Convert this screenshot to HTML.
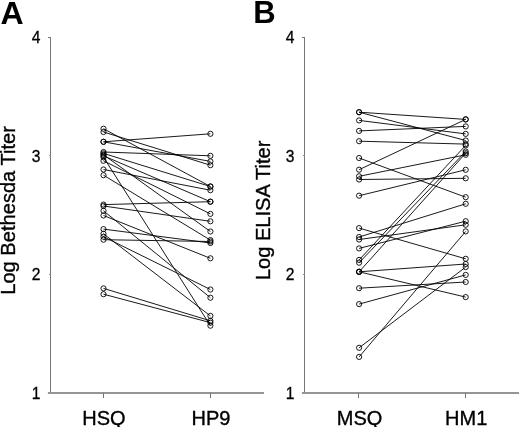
<!DOCTYPE html>
<html><head><meta charset="utf-8"><title>Figure</title>
<style>
html,body{margin:0;padding:0;background:#fff;}
svg{display:block;font-family:"Liberation Sans",sans-serif;}
.ax{stroke:#757575;stroke-width:1;fill:none;shape-rendering:crispEdges;}
.ln{stroke:#000;stroke-width:0.9;fill:none;}
.pt{stroke:#000;stroke-width:0.9;fill:none;}
.tk{font-size:15.6px;fill:#000;stroke:#000;stroke-width:0.3px;text-anchor:end;}
.xl{font-size:20px;fill:#000;stroke:#000;stroke-width:0.35px;text-anchor:middle;}
.yl{font-size:20.1px;fill:#000;stroke:#000;stroke-width:0.35px;text-anchor:middle;}
.pl{font-size:32.5px;font-weight:bold;fill:#000;}
</style></head><body>
<svg width="520" height="427" viewBox="0 0 520 427">
<rect width="520" height="427" fill="#fff"/>

<text class="pl" x="0.6" y="23.5" style="font-size:32px">A</text>
<path class="ax" d="M50.5 37.5V392.5"/>
<rect x="47.9" y="392" width="216.1" height="2" fill="#959595"/>
<path class="ax" d="M48.0 37.5H50.5"/>
<text class="tk" x="40.5" y="42.95">4</text>
<path class="ax" style="stroke:#8c8c8c" d="M48.5 155.8H50.5"/>
<text class="tk" x="40.5" y="161.80">3</text>
<path class="ax" style="stroke:#8c8c8c" d="M48.5 274.2H50.5"/>
<text class="tk" x="40.5" y="279.50">2</text>
<text class="tk" x="40.5" y="398.70">1</text>
<path class="ax" d="M103.5 393V397.5"/>
<path class="ax" d="M210.5 393V397.5"/>
<text class="xl" x="104.0" y="424.8">HSQ</text>
<text class="xl" x="210.9" y="424.8">HP9</text>
<text class="yl" transform="translate(15.3 210.4) rotate(-90)">Log Bethesda Titer</text>
<path class="ln" d="M103.5 128.7L210.4 186.5"/>
<path class="ln" d="M103.5 132.0L210.4 165.2"/>
<path class="ln" d="M103.5 141.8L210.4 133.8"/>
<path class="ln" d="M103.5 141.8L210.4 161.4"/>
<path class="ln" d="M103.5 152.0L210.4 155.8"/>
<path class="ln" d="M103.5 153.4L210.4 186.5"/>
<path class="ln" d="M103.5 155.8L210.4 201.7"/>
<path class="ln" d="M103.5 160.8L210.4 213.9"/>
<path class="ln" d="M103.5 154.8L210.4 231.5"/>
<path class="ln" d="M103.5 157.2L210.4 325.7"/>
<path class="ln" d="M103.5 169.5L210.4 190.2"/>
<path class="ln" d="M103.5 175.2L210.4 240.1"/>
<path class="ln" d="M103.5 204.6L210.4 201.7"/>
<path class="ln" d="M103.5 206.0L210.4 221.3"/>
<path class="ln" d="M103.5 210.8L210.4 297.7"/>
<path class="ln" d="M103.5 215.5L210.4 258.3"/>
<path class="ln" d="M103.5 229.1L210.4 243.0"/>
<path class="ln" d="M103.5 233.8L210.4 315.9"/>
<path class="ln" d="M103.5 236.7L210.4 289.5"/>
<path class="ln" d="M103.5 239.7L210.4 241.5"/>
<path class="ln" d="M103.5 288.4L210.4 320.8"/>
<path class="ln" d="M103.5 294.2L210.4 322.6"/>
<circle class="pt" cx="103.5" cy="128.7" r="2.6"/>
<circle class="pt" cx="210.4" cy="186.5" r="2.6"/>
<circle class="pt" cx="103.5" cy="132.0" r="2.6"/>
<circle class="pt" cx="210.4" cy="165.2" r="2.6"/>
<circle class="pt" cx="103.5" cy="141.8" r="2.6"/>
<circle class="pt" cx="210.4" cy="133.8" r="2.6"/>
<circle class="pt" cx="103.5" cy="141.8" r="2.6"/>
<circle class="pt" cx="210.4" cy="161.4" r="2.6"/>
<circle class="pt" cx="103.5" cy="152.0" r="2.6"/>
<circle class="pt" cx="210.4" cy="155.8" r="2.6"/>
<circle class="pt" cx="103.5" cy="153.4" r="2.6"/>
<circle class="pt" cx="210.4" cy="186.5" r="2.6"/>
<circle class="pt" cx="103.5" cy="155.8" r="2.6"/>
<circle class="pt" cx="210.4" cy="201.7" r="2.6"/>
<circle class="pt" cx="103.5" cy="160.8" r="2.6"/>
<circle class="pt" cx="210.4" cy="213.9" r="2.6"/>
<circle class="pt" cx="103.5" cy="154.8" r="2.6"/>
<circle class="pt" cx="210.4" cy="231.5" r="2.6"/>
<circle class="pt" cx="103.5" cy="157.2" r="2.6"/>
<circle class="pt" cx="210.4" cy="325.7" r="2.6"/>
<circle class="pt" cx="103.5" cy="169.5" r="2.6"/>
<circle class="pt" cx="210.4" cy="190.2" r="2.6"/>
<circle class="pt" cx="103.5" cy="175.2" r="2.6"/>
<circle class="pt" cx="210.4" cy="240.1" r="2.6"/>
<circle class="pt" cx="103.5" cy="204.6" r="2.6"/>
<circle class="pt" cx="210.4" cy="201.7" r="2.6"/>
<circle class="pt" cx="103.5" cy="206.0" r="2.6"/>
<circle class="pt" cx="210.4" cy="221.3" r="2.6"/>
<circle class="pt" cx="103.5" cy="210.8" r="2.6"/>
<circle class="pt" cx="210.4" cy="297.7" r="2.6"/>
<circle class="pt" cx="103.5" cy="215.5" r="2.6"/>
<circle class="pt" cx="210.4" cy="258.3" r="2.6"/>
<circle class="pt" cx="103.5" cy="229.1" r="2.6"/>
<circle class="pt" cx="210.4" cy="243.0" r="2.6"/>
<circle class="pt" cx="103.5" cy="233.8" r="2.6"/>
<circle class="pt" cx="210.4" cy="315.9" r="2.6"/>
<circle class="pt" cx="103.5" cy="236.7" r="2.6"/>
<circle class="pt" cx="210.4" cy="289.5" r="2.6"/>
<circle class="pt" cx="103.5" cy="239.7" r="2.6"/>
<circle class="pt" cx="210.4" cy="241.5" r="2.6"/>
<circle class="pt" cx="103.5" cy="288.4" r="2.6"/>
<circle class="pt" cx="210.4" cy="320.8" r="2.6"/>
<circle class="pt" cx="103.5" cy="294.2" r="2.6"/>
<circle class="pt" cx="210.4" cy="322.6" r="2.6"/>
<text class="pl" x="253.2" y="23.3" style="font-size:31px">B</text>
<path class="ax" d="M304.5 37.5V392.5"/>
<rect x="301.9" y="392" width="217.1" height="2" fill="#959595"/>
<path class="ax" d="M302.0 37.5H304.5"/>
<text class="tk" x="294.5" y="42.95">4</text>
<path class="ax" style="stroke:#8c8c8c" d="M302.5 155.8H304.5"/>
<text class="tk" x="294.5" y="161.80">3</text>
<path class="ax" style="stroke:#8c8c8c" d="M302.5 274.2H304.5"/>
<text class="tk" x="294.5" y="279.50">2</text>
<text class="tk" x="294.5" y="398.70">1</text>
<path class="ax" d="M358.5 393V397.5"/>
<path class="ax" d="M465.5 393V397.5"/>
<text class="xl" x="359.6" y="424.8">MSQ</text>
<text class="xl" x="466.2" y="424.8">HM1</text>
<text class="yl" transform="translate(269.5 210.4) rotate(-90)">Log ELISA Titer</text>
<path class="ln" d="M359.1 112.2L465.7 119.4"/>
<path class="ln" d="M359.1 112.2L465.7 140.5"/>
<path class="ln" d="M359.1 120.4L465.7 133.9"/>
<path class="ln" d="M359.1 130.9L465.7 126.4"/>
<path class="ln" d="M359.1 141.2L465.7 144.1"/>
<path class="ln" d="M359.1 158.0L465.7 197.2"/>
<path class="ln" d="M359.1 169.7L465.7 119.4"/>
<path class="ln" d="M359.1 176.3L465.7 154.8"/>
<path class="ln" d="M359.1 179.5L465.7 178.3"/>
<path class="ln" d="M359.1 195.7L465.7 169.8"/>
<path class="ln" d="M359.1 228.1L465.7 258.8"/>
<path class="ln" d="M359.1 237.0L465.7 203.8"/>
<path class="ln" d="M359.1 239.5L465.7 224.8"/>
<path class="ln" d="M359.1 248.4L465.7 221.2"/>
<path class="ln" d="M359.1 259.9L465.7 145.4"/>
<path class="ln" d="M359.1 262.7L465.7 151.5"/>
<path class="ln" d="M359.1 271.8L465.7 153.2"/>
<path class="ln" d="M359.1 271.8L465.7 264.0"/>
<path class="ln" d="M359.1 271.8L465.7 297.1"/>
<path class="ln" d="M359.1 288.2L465.7 282.0"/>
<path class="ln" d="M359.1 304.1L465.7 274.9"/>
<path class="ln" d="M359.1 347.8L465.7 267.1"/>
<path class="ln" d="M359.1 356.9L465.7 231.4"/>
<circle class="pt" cx="359.1" cy="112.2" r="2.6"/>
<circle class="pt" cx="465.7" cy="119.4" r="2.6"/>
<circle class="pt" cx="359.1" cy="112.2" r="2.6"/>
<circle class="pt" cx="465.7" cy="140.5" r="2.6"/>
<circle class="pt" cx="359.1" cy="120.4" r="2.6"/>
<circle class="pt" cx="465.7" cy="133.9" r="2.6"/>
<circle class="pt" cx="359.1" cy="130.9" r="2.6"/>
<circle class="pt" cx="465.7" cy="126.4" r="2.6"/>
<circle class="pt" cx="359.1" cy="141.2" r="2.6"/>
<circle class="pt" cx="465.7" cy="144.1" r="2.6"/>
<circle class="pt" cx="359.1" cy="158.0" r="2.6"/>
<circle class="pt" cx="465.7" cy="197.2" r="2.6"/>
<circle class="pt" cx="359.1" cy="169.7" r="2.6"/>
<circle class="pt" cx="465.7" cy="119.4" r="2.6"/>
<circle class="pt" cx="359.1" cy="176.3" r="2.6"/>
<circle class="pt" cx="465.7" cy="154.8" r="2.6"/>
<circle class="pt" cx="359.1" cy="179.5" r="2.6"/>
<circle class="pt" cx="465.7" cy="178.3" r="2.6"/>
<circle class="pt" cx="359.1" cy="195.7" r="2.6"/>
<circle class="pt" cx="465.7" cy="169.8" r="2.6"/>
<circle class="pt" cx="359.1" cy="228.1" r="2.6"/>
<circle class="pt" cx="465.7" cy="258.8" r="2.6"/>
<circle class="pt" cx="359.1" cy="237.0" r="2.6"/>
<circle class="pt" cx="465.7" cy="203.8" r="2.6"/>
<circle class="pt" cx="359.1" cy="239.5" r="2.6"/>
<circle class="pt" cx="465.7" cy="224.8" r="2.6"/>
<circle class="pt" cx="359.1" cy="248.4" r="2.6"/>
<circle class="pt" cx="465.7" cy="221.2" r="2.6"/>
<circle class="pt" cx="359.1" cy="259.9" r="2.6"/>
<circle class="pt" cx="465.7" cy="145.4" r="2.6"/>
<circle class="pt" cx="359.1" cy="262.7" r="2.6"/>
<circle class="pt" cx="465.7" cy="151.5" r="2.6"/>
<circle class="pt" cx="359.1" cy="271.8" r="2.6"/>
<circle class="pt" cx="465.7" cy="153.2" r="2.6"/>
<circle class="pt" cx="359.1" cy="271.8" r="2.6"/>
<circle class="pt" cx="465.7" cy="264.0" r="2.6"/>
<circle class="pt" cx="359.1" cy="271.8" r="2.6"/>
<circle class="pt" cx="465.7" cy="297.1" r="2.6"/>
<circle class="pt" cx="359.1" cy="288.2" r="2.6"/>
<circle class="pt" cx="465.7" cy="282.0" r="2.6"/>
<circle class="pt" cx="359.1" cy="304.1" r="2.6"/>
<circle class="pt" cx="465.7" cy="274.9" r="2.6"/>
<circle class="pt" cx="359.1" cy="347.8" r="2.6"/>
<circle class="pt" cx="465.7" cy="267.1" r="2.6"/>
<circle class="pt" cx="359.1" cy="356.9" r="2.6"/>
<circle class="pt" cx="465.7" cy="231.4" r="2.6"/>
</svg></body></html>
